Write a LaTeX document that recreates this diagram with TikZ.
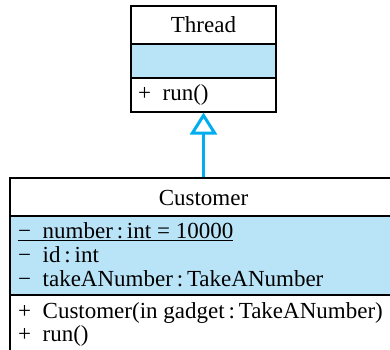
\documentclass[tikz,border=0pt]{standalone}
\usepackage{fontspec}
\setmainfont{Liberation Serif}
\usetikzlibrary{arrows.meta}
\definecolor{attrblue}{RGB}{185,227,247}
\definecolor{umlcyan}{RGB}{0,174,239}
\tikzset{
  classbox/.style={draw, line width=1.2pt, inner sep=0pt},
  member/.style={anchor=west, inner sep=0pt, font=\fontsize{23}{23}\selectfont},
  title/.style={inner sep=0pt, font=\fontsize{23}{23}\selectfont},
  inherit/.style={umlcyan, line width=3pt, -{Triangle[open, length=22pt, width=27pt]}}
}
\begin{document}
\begin{tikzpicture}[x=1pt,y=1pt]
\useasboundingbox (0,0) rectangle (390,349);
\clip (0,0) rectangle (390,349);

% Thread class
\fill[attrblue] (131,305) rectangle (276,271);
\node[classbox, minimum width=145pt, minimum height=106pt] (thread) at (203.5,290) {};
\draw[line width=1.2pt] (131,305) -- (276,305);
\draw[line width=1.2pt] (131,271) -- (276,271);
\node[title] (threadname) at (203.5,324) {Thread};
\node[member] (threadrun) at (138,254) {+\enspace run()};

% Customer class
\fill[attrblue] (10,133) rectangle (397,54);
\node[classbox, minimum width=387pt, minimum height=190pt] (customer) at (203.5,76) {};
\draw[line width=1.2pt] (10,133) -- (397,133);
\draw[line width=1.2pt] (10,54) -- (397,54);
\node[title] (custname) at (203.5,151) {Customer};
\node[member] (number) at (18,117) {\underline{−\enspace number\,:\,int\ =\ 10000}};
\node[member] (id) at (18,94) {−\enspace id\,:\,int};
\node[member] (take) at (18,70) {−\enspace takeANumber\,:\,TakeANumber};
\node[member] (ctor) at (18,36) {+\enspace Customer(in gadget\,:\,TakeANumber)};
\node[member] (custrun) at (18,13) {+\enspace run()};

% generalization
\draw[inherit] (customer.north) -- (thread.south);
\end{tikzpicture}
\end{document}
